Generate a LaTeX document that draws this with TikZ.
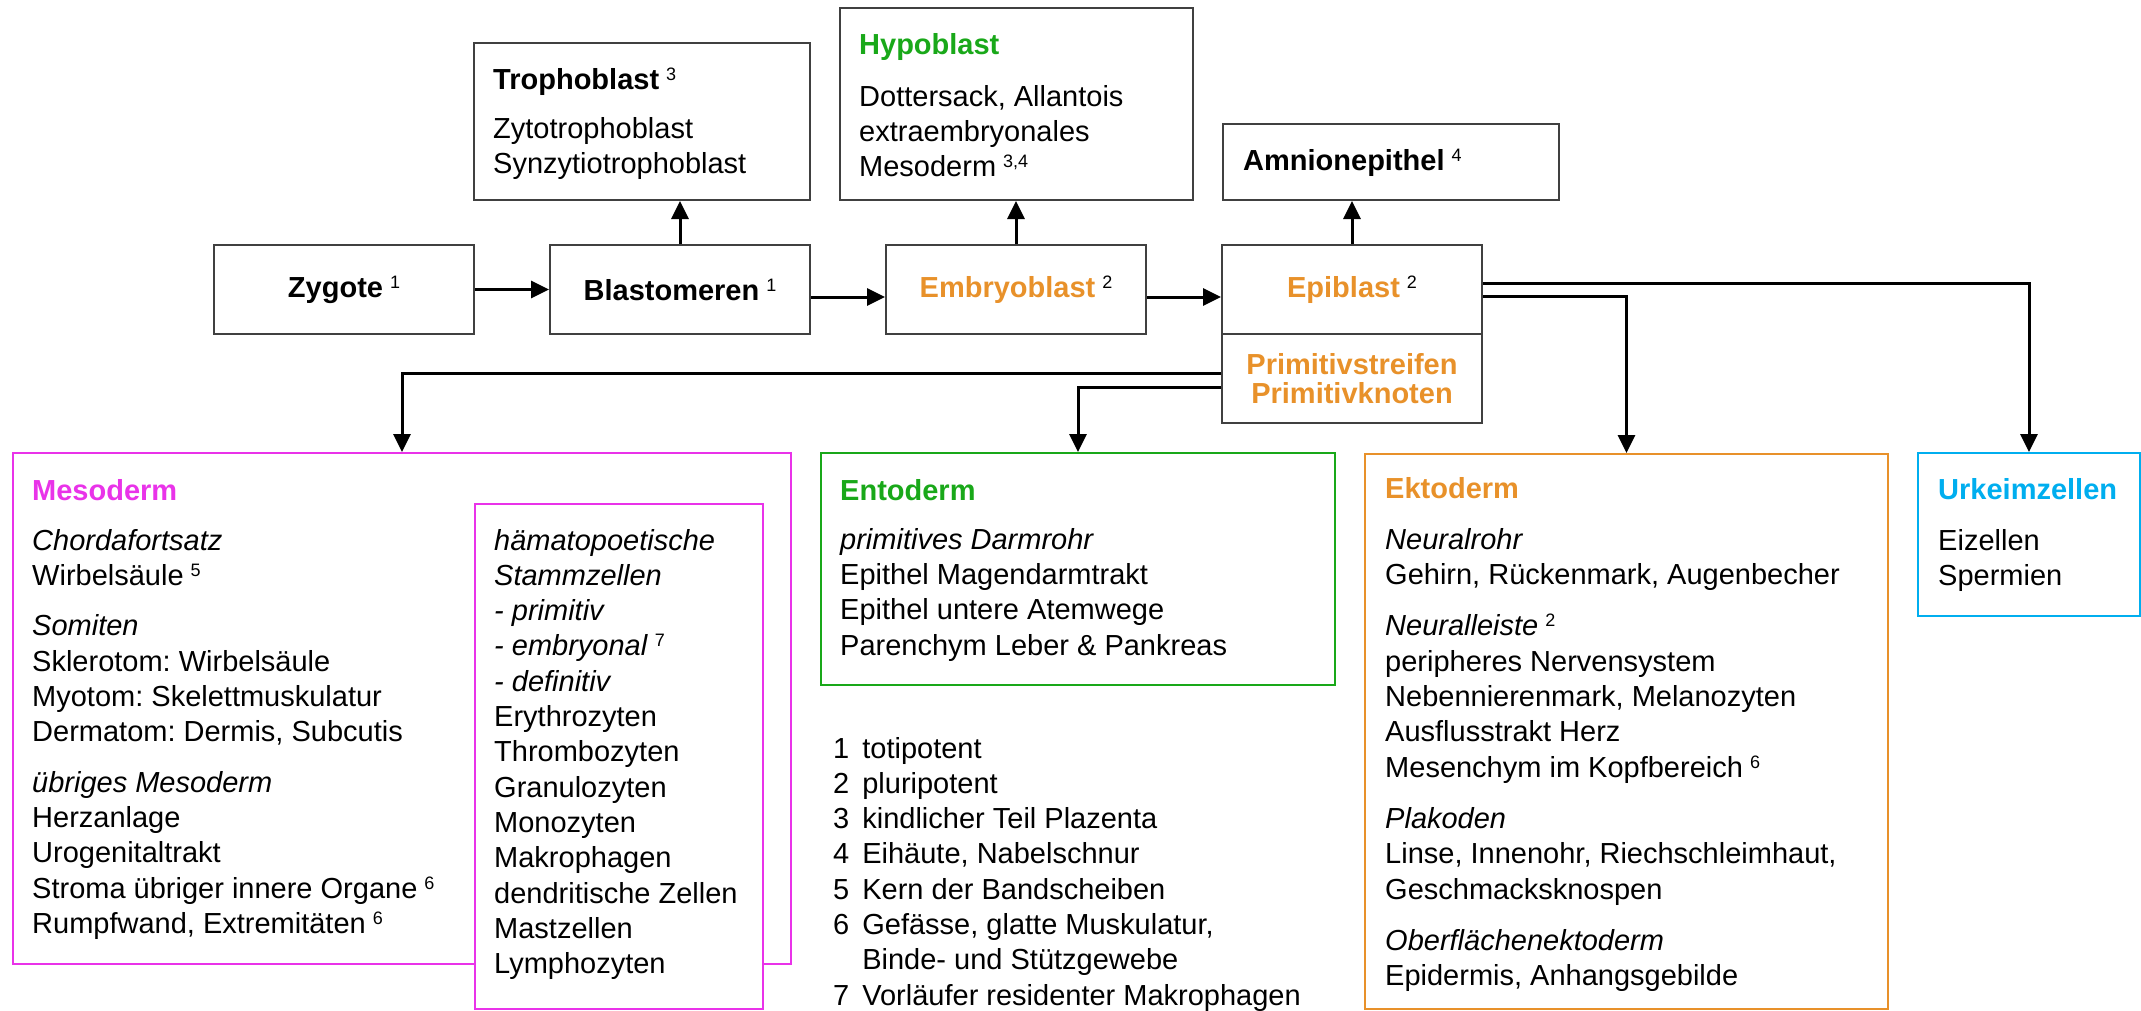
\documentclass[tikz,border=0pt]{standalone}
\usepackage{fontspec}
\setmainfont{Liberation Sans}
\usetikzlibrary{arrows.meta}
\frenchspacing

\definecolor{embor}{HTML}{E8912A}
\definecolor{embgr}{HTML}{19A819}
\definecolor{embmg}{HTML}{E933E9}
\definecolor{embcy}{HTML}{00AEEF}
\definecolor{boxgray}{HTML}{404040}
\newcommand\fn[1]{\hspace{7pt}\raisebox{9pt}{\fontsize{18}{18}\selectfont\mdseries\upshape #1}}

\begin{document}
\begin{tikzpicture}[x=1pt,y=-1pt,font=\fontsize{29}{35.3}\selectfont,
  box/.style={draw=boxgray,line width=2pt,anchor=north west,inner sep=0pt},
  txt/.style={anchor=base west,inner sep=0pt},
  arr/.style={line width=3pt,-{Triangle[length=18pt,width=17pt]}}]
\useasboundingbox (0,0) rectangle (2141,1010);
\node[box,minimum width=260pt,minimum height=89pt] (zyg) at (213,244) {\textbf{Zygote}\fn{1}};
\node[box,minimum width=260pt,minimum height=89pt] (blast) at (549,244) {\textbf{Blastomeren}\fn{1}};
\node[box,minimum width=260pt,minimum height=89pt] (emb) at (885,244) {\textcolor{embor}{\textbf{Embryoblast}}\fn{2}};
\node[box,minimum width=260pt,minimum height=89pt] (epi) at (1221,244) {\textcolor{embor}{\textbf{Epiblast}}\fn{2}};
\node[box,minimum width=260pt,minimum height=89pt,align=center,font=\fontsize{29}{29}\selectfont\bfseries\color{embor}] (prim) at (1221,333) {Primitivstreifen\\Primitivknoten};
\node[box,minimum width=336pt,minimum height=157pt] (troph) at (473,42) {};
\node[box,minimum width=353pt,minimum height=192pt] (hypo) at (839,7) {};
\node[box,minimum width=336pt,minimum height=76pt] (amnion) at (1222,123) {};
\node[txt] (trophtxt) at (493,89) {\begin{tabular}[t]{@{}l@{}}\textbf{Trophoblast}\fn{3}\\[14pt]
  Zytotrophoblast\\ Synzytiotrophoblast\end{tabular}};
\node[txt] (hypotxt) at (859,54) {\begin{tabular}[t]{@{}l@{}}\textcolor{embgr}{\textbf{Hypoblast}}\\[17pt]
  Dottersack, Allantois\\ extraembryonales\\ Mesoderm\fn{3,4}\end{tabular}};
\node[txt] (amniontxt) at (1243,170) {\textbf{Amnionepithel}\fn{4}};

\node[box,draw=embmg,minimum width=778pt,minimum height=511pt] (meso) at (12,452) {};
\node[box,draw=embmg,fill=white,minimum width=288pt,minimum height=505pt] (haem) at (474,503) {};
\node[box,draw=embgr,minimum width=514pt,minimum height=232pt] (ento) at (820,452) {};
\node[box,draw=embor,minimum width=523pt,minimum height=555pt] (ekto) at (1364,453) {};
\node[box,draw=embcy,minimum width=222pt,minimum height=163pt] (urkeim) at (1917,452) {};

\node[txt] (mesotxt) at (32,500) {\begin{tabular}[t]{@{}l@{}}\textcolor{embmg}{\textbf{Mesoderm}}\\[15pt]
  \textit{Chordafortsatz}\\ Wirbelsäule\fn{5}\\[15pt]
  \textit{Somiten}\\ Sklerotom: Wirbelsäule\\ Myotom: Skelettmuskulatur\\ Dermatom: Dermis, Subcutis\\[15pt]
  \textit{übriges Mesoderm}\\ Herzanlage\\ Urogenitaltrakt\\ Stroma übriger innere Organe\fn{6}\\
  Rumpfwand, Extremitäten\fn{6}\end{tabular}};
\node[txt] (haemtxt) at (494,550) {\begin{tabular}[t]{@{}l@{}}\textit{hämatopoetische}\\ \textit{Stammzellen}\\
  \textit{- primitiv}\\ \textit{- embryonal}\fn{7}\\ \textit{- definitiv}\\ Erythrozyten\\ Thrombozyten\\
  Granulozyten\\ Monozyten\\ Makrophagen\\ dendritische Zellen\\ Mastzellen\\ Lymphozyten\end{tabular}};
\node[txt] (entotxt) at (840,500) {\begin{tabular}[t]{@{}l@{}}\textcolor{embgr}{\textbf{Entoderm}}\\[14pt]
  \textit{primitives Darmrohr}\\ Epithel Magendarmtrakt\\ Epithel untere Atemwege\\
  Parenchym Leber \& Pankreas\end{tabular}};
\node[txt] (notes) at (833,758) {\begin{tabular}[t]{@{}l@{\hspace{13pt}}l@{}}1 & totipotent\\ 2 & pluripotent\\
  3 & kindlicher Teil Plazenta\\ 4 & Eihäute, Nabelschnur\\ 5 & Kern der Bandscheiben\\
  6 & Gefässe, glatte Muskulatur,\\ & Binde- und Stützgewebe\\ 7 & Vorläufer residenter Makrophagen\end{tabular}};
\node[txt] (ektotxt) at (1385,498) {\begin{tabular}[t]{@{}l@{}}\textcolor{embor}{\textbf{Ektoderm}}\\[16pt]
  \textit{Neuralrohr}\\ Gehirn, Rückenmark, Augenbecher\\[16pt]
  \textit{Neuralleiste}\fn{2}\\ peripheres Nervensystem\\ Nebennierenmark, Melanozyten\\
  Ausflusstrakt Herz\\ Mesenchym im Kopfbereich\fn{6}\\[16pt]
  \textit{Plakoden}\\ Linse, Innenohr, Riechschleimhaut,\\ Geschmacksknospen\\[16pt]
  \textit{Oberflächenektoderm}\\ Epidermis, Anhangsgebilde\end{tabular}};
\node[txt] (urkeimtxt) at (1938,499) {\begin{tabular}[t]{@{}l@{}}\textcolor{embcy}{\textbf{Urkeimzellen}}\\[16pt]
  Eizellen\\ Spermien\end{tabular}};

\draw[arr] (zyg.east) -- (blast.west);
\draw[arr] ([yshift=-7.5pt]blast.east) -- ([yshift=-7.5pt]emb.west);
\draw[arr] ([yshift=-7.5pt]emb.east) -- ([yshift=-7.5pt]epi.west);
\draw[arr] (blast.north) -- (troph.south -| blast.north);
\draw[arr] (emb.north) -- (hypo.south -| emb.north);
\draw[arr] (epi.north) -- (amnion.south -| epi.north);
\draw[arr] ([yshift=6.5pt]epi.east) -| (urkeim.north);
\draw[arr] ([yshift=-6.5pt]epi.east) -| (ekto.north);
\draw[arr] ([yshift=5.5pt]prim.west) -| (meso.north);
\draw[arr] ([yshift=-8.5pt]prim.west) -| (ento.north);
\end{tikzpicture}
\end{document}
